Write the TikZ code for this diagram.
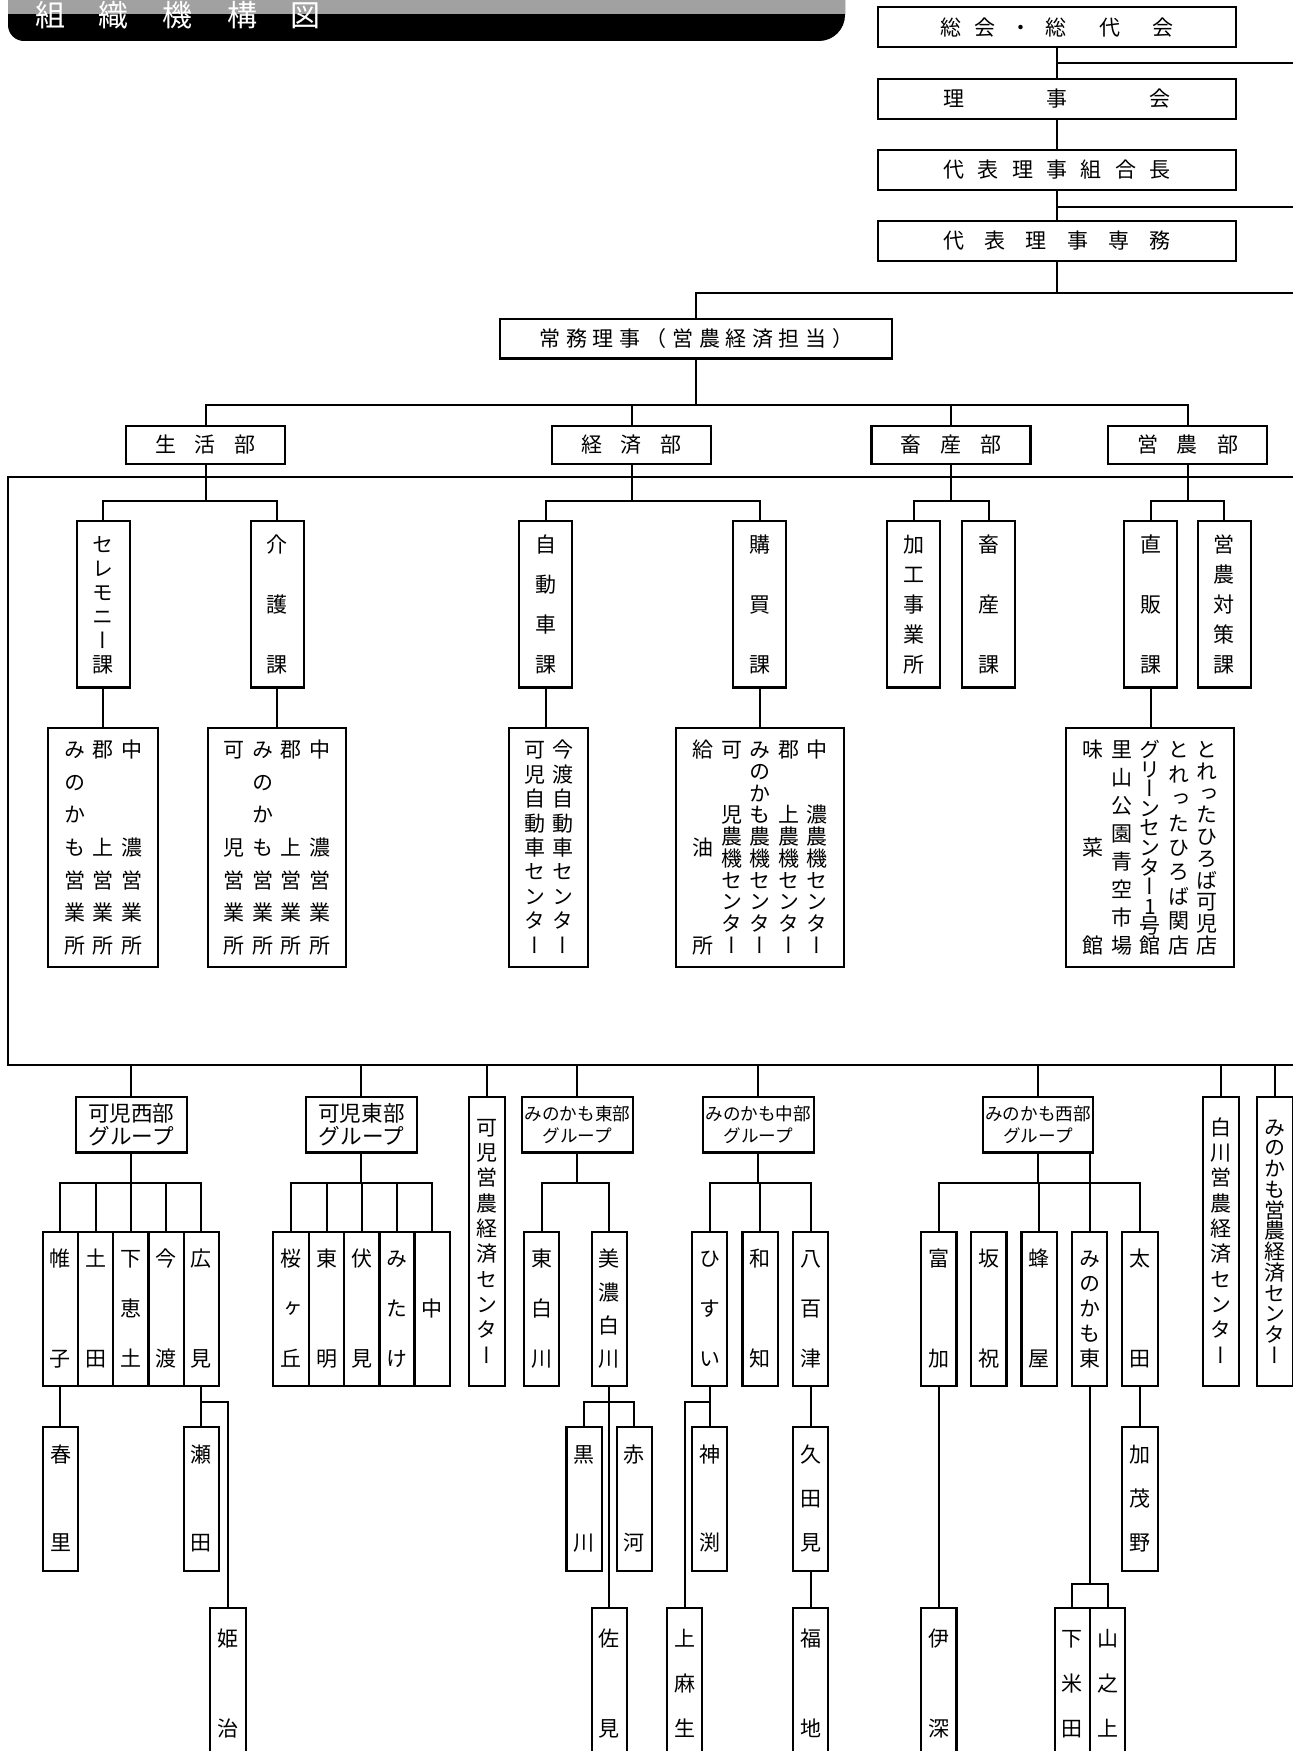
\documentclass[tikz,border=0pt]{standalone}
\usepackage{fontspec}
\setmainfont{Noto Sans CJK JP}
\newfontfamily\tatefont[RawFeature=+vert]{Noto Sans CJK JP}
\definecolor{headgray}{gray}{0.63}

\def\tatechar#1{\hbox to 1em{\hss\vrule height .88em depth .12em width 0pt\relax #1\hss}}
\def\tatenext#1{\ifx\relax#1\else\vss\tatechar{#1}\expandafter\tatenext\fi}
\def\tatefirst#1{\tatechar{#1}\tatenext}
\newcommand{\tate}[2]{\vbox to \dimexpr #1+0.88em\relax{\offinterlineskip\expandafter\tatefirst#2\relax}}

\begin{document}
\begin{tikzpicture}[x=0.5pt,y=-0.5pt,line width=1pt,
  box/.style={draw,line width=1.1pt,inner sep=0pt,font=\fontsize{10.5}{12}\selectfont},
  topbox/.style={box,minimum width=179pt,minimum height=20pt},
  bubox/.style={box,minimum width=79.5pt,minimum height=19pt},
  tatebox/.style={box,font=\fontsize{10.5}{12}\tatefont},
  kabox/.style={tatebox,minimum width=26.5pt,minimum height=83.25pt},
  tenbox/.style={tatebox,minimum height=119.5pt},
  grbox/.style={box,minimum width=55.3pt,minimum height=27.9pt,align=center,font=\fontsize{10.8}{11.2}\selectfont},
  mgrbox/.style={grbox,font=\fontsize{8.8}{11.2}\selectfont},
  cebox/.style={tatebox,minimum width=17.85pt,minimum height=144.5pt},
  chbox/.style={tatebox,minimum width=17.65pt,minimum height=76.9pt},
  sbbox/.style={chbox,minimum height=71.9pt},
  btbox/.style={chbox,minimum height=75pt}]
        \useasboundingbox (0,0) rectangle (1293,1751);
        \clip (0,0) rectangle (1293,1751);

        \begin{scope}
        \clip (8,-60) [rounded corners=8pt] -- (8,41) [rounded corners=13pt] -- (845,41) -- (845,-60) -- cycle;
        \fill[black] (0,-60) rectangle (850,41);
        \fill[headgray] (0,-60) rectangle (850,14);
        \end{scope}
        \draw (34,15.5) node[anchor=west,inner sep=0pt,text=white,font=\fontsize{15}{15}\selectfont] (title)
        {組\hspace{17pt}織\hspace{17pt}機\hspace{17pt}構\hspace{17pt}図};

        \draw (1057,27.3) node[topbox] (soukai) {総\hspace{7pt}会\hspace{7pt}・\hspace{7pt}総\hspace{16.5pt}代\hspace{16.5pt}会};
        \draw (1057,99) node[topbox] (riji) {理\hspace{41pt}事\hspace{41pt}会};
        \draw (1057,170) node[topbox] (kumiai) {代\hspace{6.7pt}表\hspace{6.7pt}理\hspace{6.7pt}事\hspace{6.7pt}組\hspace{6.7pt}合\hspace{6.7pt}長};
        \draw (1057,241) node[topbox] (senmu) {代\hspace{10.1pt}表\hspace{10.1pt}理\hspace{10.1pt}事\hspace{10.1pt}専\hspace{10.1pt}務};
        \draw (696.3,338.7) node[box,minimum width=196pt,minimum height=19.7pt] (joumu)
        {常\hspace{2.8pt}務\hspace{2.8pt}理\hspace{2.8pt}事\hspace{2.8pt}（\hspace{2.8pt}営\hspace{2.8pt}農\hspace{2.8pt}経\hspace{2.8pt}済\hspace{2.8pt}担\hspace{2.8pt}当\hspace{2.8pt}）};

        \coordinate (r1) at (1293,63.3);
        \coordinate (r2) at (1293,206.7);
        \coordinate (r3) at (1293,292.7);
        \draw (soukai)--(riji);
        \draw (riji)--(kumiai);
        \draw (kumiai)--(senmu);
        \draw (r1)--(r1 -| soukai.south);
        \draw (r2)--(r2 -| kumiai.south);
        \draw (senmu.south)--(senmu.south |- r3);
        \draw (r3) -| (joumu.north);

        \draw (205.5,445) node[bubox] (seikatsu) {生\hspace{9.5pt}活\hspace{9.5pt}部};
        \draw (631.5,445) node[bubox] (keizai) {経\hspace{9.5pt}済\hspace{9.5pt}部};
        \draw (951,445) node[bubox] (chikusan) {畜\hspace{9.5pt}産\hspace{9.5pt}部};
        \draw (1187.5,445) node[bubox] (einou) {営\hspace{9.5pt}農\hspace{9.5pt}部};
        \coordinate (jb) at (0,405);
        \foreach \b in {seikatsu,keizai,chikusan,einou}
            \draw (joumu.south)--(joumu.south |- jb) -| (\b.north);

        \coordinate (fTL) at (8.3,477);
        \coordinate (fBL) at (8.3,1065);
        \coordinate (fTR) at (1300,477);
        \coordinate (fBR) at (1300,1065);
        \draw (fTR)--(fTL)--(fBL)--(fBR);

        \foreach \n/\x/\lab in {cere/103.2/セレモニー課,kaigo/277.4/介護課,jidou/545.8/自動車課,koubai/759.8/購買課,
            kakou/913.6/加工事業所,chikuka/988.6/畜産課,chokuhan/1150.6/直販課,taisaku/1224.4/営農対策課}
            \draw (\x,604.3) node[kabox] (\n) {\tate{59.8pt}{\lab}};
        \coordinate (jk) at (0,500.7);
        \foreach \p/\c in {seikatsu/cere,seikatsu/kaigo,keizai/jidou,keizai/koubai,
            chikusan/kakou,chikusan/chikuka,einou/chokuhan,einou/taisaku}
            \draw (\p.south)--(\p.south |- jk) -| (\c.north);

        \draw (103,847.5) node[tenbox,minimum width=55pt] (shopA)
        {\tate{97.85pt}{みのかも営業所}\hspace{3.75pt}\tate{97.85pt}{郡　　上営業所}\hspace{3.75pt}\tate{97.85pt}{中　　濃営業所}};
        \draw (277,847.5) node[tenbox,minimum width=69pt] (shopB)
        {\tate{97.85pt}{可　　児営業所}\hspace{3.75pt}\tate{97.85pt}{みのかも営業所}\hspace{3.75pt}\tate{97.85pt}{郡　　上営業所}\hspace{3.75pt}\tate{97.85pt}{中　　濃営業所}};
        \draw (548.5,847.5) node[tenbox,minimum width=39.5pt] (carC)
        {\tate{97.85pt}{可児自動車センター}\hspace{3.5pt}\tate{97.85pt}{今渡自動車センター}};
        \draw (760,847.5) node[tenbox,minimum width=84pt] (kikiD)
        {\tate{97.85pt}{給油所}\hspace{3.75pt}\tate{97.85pt}{可　　児農機センター}\hspace{3.75pt}\tate{97.85pt}{みのかも農機センター}\hspace{3.75pt}\tate{97.85pt}{郡　　上農機センター}\hspace{3.75pt}\tate{97.85pt}{中　　濃農機センター}};
        \draw (1150,847.5) node[tenbox,minimum width=84pt] (chokuE)
        {\tate{97.85pt}{味菜館}\hspace{3.75pt}\tate{97.85pt}{里山公園青空市場}\hspace{3.75pt}\tate{97.85pt}{グリーンセンター1号館}\hspace{3.75pt}\tate{97.85pt}{とれったひろば関店}\hspace{3.75pt}\tate{97.85pt}{とれったひろば可児店}};
        \foreach \p/\c in {cere/shopA,kaigo/shopB,jidou/carC,koubai/kikiD,chokuhan/chokuE}
            \draw (\p.south)--(\p.south |- \c.north);

        \draw (131.3,1124.6) node[grbox] (kaniW) {可児西部\\グループ};
        \draw (361.4,1124.6) node[grbox] (kaniE) {可児東部\\グループ};
        \draw (577.4,1124.6) node[mgrbox] (minoE) {みのかも東部\\グループ};
        \draw (758.3,1124.6) node[mgrbox] (minoC) {みのかも中部\\グループ};
        \draw (1038,1124.6) node[mgrbox] (minoW) {みのかも西部\\グループ};
        \draw (486.8,1241.2) node[cebox] (ceKani) {\tate{114pt}{可児営農経済センター}};
        \draw (1220.8,1241.2) node[cebox] (ceShira) {\tate{114pt}{白川営農経済センター}};
        \draw (1275.1,1241.2) node[cebox] (ceMino) {\tate{114pt}{みのかも営農経済センター}};
        \foreach \g in {kaniW,kaniE,ceKani,minoE,minoC,minoW,ceShira,ceMino}
            \draw (\g.north)--(\g.north |- fBL);

        \foreach \n/\x/\lab in {c11/60.4/帷子,c12/95.6/土田,c13/130.8/下恵土,c14/166/今渡,c15/201.3/広見,
            c21/291/桜ヶ丘,c22/326.5/東明,c23/361.75/伏見,c24/397/みたけ,c25/432.2/　中　,
            c31/541.5/東白川,c32/609.3/美濃白川,c41/709.6/ひすい,c42/760.2/和知,c43/810.6/八百津,
            c51/938.8/富加,c52/988.8/坂祝,c53/1039.2/蜂屋,c54/1089.6/みのかも東,c55/1140/太田}
            \draw (\x,1308.7) node[chbox] (\n) {\tate{49.85pt}{\lab}};
        \coordinate (jc) at (0,1182.9);
        \foreach \p/\c in {kaniW/c11,kaniW/c12,kaniW/c13,kaniW/c14,kaniW/c15,
            kaniE/c21,kaniE/c22,kaniE/c23,kaniE/c24,kaniE/c25,minoE/c31,minoE/c32,
            minoC/c41,minoC/c42,minoC/c43,minoW/c51,minoW/c53,minoW/c55}
            \draw (\p.south)--(\p.south |- jc) -| (\c.north);
        \draw (c54.north)--(c54.north |- minoW.south);

        \foreach \n/\x/\lab in {s11/60.7/春里,s15/201.3/瀬田,s31/584.2/黒川,s32/634.3/赤河,
            s41/709.6/神渕,s43/810.6/久田見,s55/1140/加茂野}
            \draw (\x,1498.7) node[sbbox] (\n) {\tate{44.2pt}{\lab}};
        \foreach \n/\x/\lab in {b15/228/姫治,b32/609.3/佐見,b41/684.6/上麻生,b43/810.6/福地,
            b51/938.8/伊深,b54a/1072.3/下米田,b54b/1107.5/山之上}
            \draw (\x,1683) node[btbox] (\n) {\tate{45pt}{\lab}};

        \coordinate (js) at (0,1402);
        \coordinate (jt) at (0,1584.2);
        \draw (c11.south)--(c11.south |- s11.north);
        \draw (c15.south)--(c15.south |- s15.north);
        \draw (c15.south)--(c15.south |- js) -| (b15.north);
        \draw (c32.south)--(c32.south |- js) -| (s31.north);
        \draw (c32.south |- js) -| (s32.north);
        \draw (c32.south)--(c32.south |- b32.north);
        \draw (c41.south)--(c41.south |- s41.north);
        \draw (c41.south)--(c41.south |- js) -| (b41.north);
        \draw (c43.south)--(c43.south |- s43.north);
        \draw (s43.south)--(s43.south |- b43.north);
        \draw (c51.south)--(c51.south |- b51.north);
        \draw (c54.south)--(c54.south |- jt) -| (b54a.north);
        \draw (c54.south |- jt) -| (b54b.north);
        \draw (c55.south)--(c55.south |- s55.north);
    \end{tikzpicture}
\end{document}
